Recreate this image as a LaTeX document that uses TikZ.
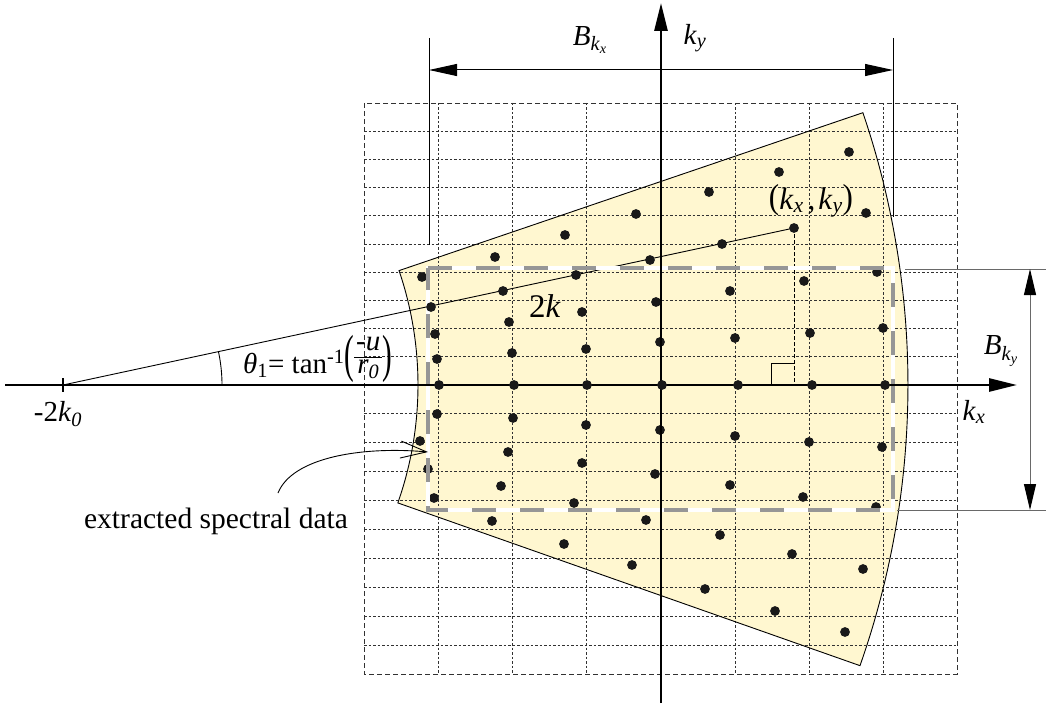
\documentclass[tikz,border=0pt]{standalone}
\usepackage{graphicx}
\usepackage{fontspec}
\setmainfont{Liberation Serif}
\usetikzlibrary{arrows.meta}
\definecolor{wedgefill}{RGB}{255,247,208}
\definecolor{gridcol}{RGB}{50,50,50}
\definecolor{rectgray}{RGB}{150,150,150}
\definecolor{dimgray}{RGB}{105,105,105}
\newcommand{\ik}{\textit{k}}
\newcommand{\lblfont}{\fontsize{29}{30}\selectfont}
\newcommand{\bigparen}[1]{\raisebox{0.05em}{\scalebox{1}[1.8]{#1}}}
\newcommand{\midparen}[1]{\raisebox{0.02em}{\scalebox{1}[1.12]{#1}}}
\begin{document}
\begin{tikzpicture}[x=1pt,y=-1pt,
  gridline/.style={draw=gridcol,line width=0.9pt,dash pattern=on 2.5pt off 2pt},
  gridborder/.style={draw=gridcol,line width=0.9pt,dash pattern=on 5pt off 3pt},
  wedge/.style={draw=black,line width=0.9pt},
  dotstyle/.style={fill=black!90},
  axisline/.style={line width=2.8pt,-{Triangle[length=28pt,width=13pt]}},
  dimline/.style={line width=1pt},
  dimarrow/.style={line width=1pt,{Triangle[length=28pt,width=12pt]}-{Triangle[length=28pt,width=12pt]}},
  dimgrayline/.style={draw=dimgray,line width=1pt},
  dimgrayarrow/.style={draw=dimgray,line width=1pt,{Triangle[length=26pt,width=12pt,color=black]}-{Triangle[length=26pt,width=12pt,color=black]}},
  lbl/.style={inner sep=0pt,font=\lblfont},
  thinline/.style={line width=0.9pt}
]
\useasboundingbox (0,0) rectangle (1046,706);
% key coordinates
\coordinate (C) at (63,385);
\coordinate (P) at (794,228);
% wedge corners
\path (C) ++(-18.8:355) coordinate (w1)
  (C) ++(-18.8:845) coordinate (w2)
  (C) ++(19.4:845) coordinate (w3)
  (C) ++(19.4:355) coordinate (w4);
\fill[wedgefill] (w1) -- (w2) arc[start angle=-18.8,end angle=19.4,radius=845] -- (w4) arc[start angle=19.4,end angle=-18.8,radius=355] -- cycle;
% grid
\foreach \gx in {438.2,512.5,586.8,735.2,809.5,883.8}
  \draw[gridline] (\gx,103) -- (\gx,674);
\foreach \gy in {131.2,159.4,187.6,215.8,244,272.2,300.4,328.6,356.8,413.9,442.8,471.7,500.6,529.5,558.4,587.3,616.2,645.1}
  \draw[gridline] (364,\gy) -- (957,\gy);
\draw[gridborder] (364,103) rectangle (957,674);
% wedge outline
\draw[wedge] (w1) -- (w2) arc[start angle=-18.8,end angle=19.4,radius=845] -- (w4) arc[start angle=19.4,end angle=-18.8,radius=355] -- cycle;
% 2k line, angle, right-angle mark
\draw[thinline] (C) -- (P);
\draw[thinline] (C) ++(159,0) arc[start angle=0,end angle=-12.1,radius=159];
\draw[line width=0.9pt,dash pattern=on 4pt off 2pt] (P) -- (P |- C);
\draw[thinline] (771,385) -- (771,363) -- (794,363);
% dots
\foreach \px/\py in {636/214,565/235,495/257,422/277,
  849/152,779/172,709/192,
  866/213,794/228,722/244,650/260,576/275,503/291,
  877/272,804/281,730/291,656/302,582/312,509/322,435/334,
  883/328,810/333,735/338,660/342,586/349,512/353,437/359,
  437/414,513/418,586/425,660/430,735/436,809/442,882/447,
  420/441,508/452,582/463,655/474,730/485,803/497,876/507,
  428/469,501/486,574/503,646/520,720/535,792/554,863/569,
  434/498,492/521,564/544,632/565,705/589,775/611,845/632}
  \fill[dotstyle] (\px,\py) circle[radius=4.9pt];
% extracted rectangle
\draw[white,line width=4pt] (428,268) rectangle (893,510);
\draw[rectgray,line width=4pt,dash pattern=on 24pt off 24pt] (428,268) -- (893,268) -- (893,510) -- (428,510) -- cycle;
\fill[dotstyle] (431,307) circle[radius=4.9pt];
% axes
\coordinate (xa0) at (5,385);
\coordinate (xa1) at (1017,385);
\coordinate (ya0) at (661,703);
\coordinate (ya1) at (661,3);
\draw[axisline] (xa0) -- (xa1);
\draw[axisline] (ya0) -- (ya1);
\foreach \px in {439,514,587,662,738,812,885}
  \fill[dotstyle] (\px,385) circle[radius=4.9pt];
\draw[line width=1.2pt] (63,378) -- (63,392);
% B_kx dimension
\coordinate (bx1) at (429,38);
\coordinate (bx1b) at (429,245);
\coordinate (bx2) at (893,38);
\coordinate (bx2b) at (893,217);
\draw[dimline] (bx1) -- (bx1b);
\draw[dimline] (bx2) -- (bx2b);
\draw[dimarrow] (429,70) -- (893,70);
% B_ky dimension
\coordinate (by1) at (905,269);
\coordinate (by1b) at (1046,269);
\coordinate (by2) at (897,510);
\coordinate (by2b) at (1046,510);
\draw[dimgrayline] (by1) -- (by1b);
\draw[dimgrayline] (by2) -- (by2b);
\draw[dimgrayarrow] (1030,269) -- (1030,510);
% labels
\node[lbl] (Bkx) at (590,40) {\textit{B}\textsubscript{\ik\textsubscript{\textit{x}}}};
\node[lbl] (ky) at (695,38) {\ik\textsubscript{\textit{y}}};
\node[lbl,font=\fontsize{31}{32}\selectfont] (kxky) at (811,201) {\midparen{(}\ik\textsubscript{\textit{x}}\hspace{4pt},\hspace{3pt}\ik\textsubscript{\textit{y}}\midparen{)}};
\node[lbl,font=\fontsize{33}{34}\selectfont] (twok) at (545,306) {2\ik};
\node[lbl,anchor=base west] (theta) at (243,373) {\setlength{\arrayrulewidth}{0.9pt}\renewcommand{\arraystretch}{0.75}\textit{θ}\textsubscript{1}= tan\textsuperscript{-1}\bigparen{(}\raisebox{9pt}{\begin{tabular}{@{\hspace{2pt}}c@{\hspace{2pt}}}-\textit{u}\\\hline\textit{r}\textsubscript{\textit{0}}\end{tabular}}\bigparen{)}};
\node[lbl] (k0) at (58,414) {-2\ik\textsubscript{\textit{0}}};
\node[lbl] (kx) at (974,412) {\ik\textsubscript{\textit{x}}};
\node[lbl] (Bky) at (1001,351) {\textit{B}\textsubscript{\ik\textsubscript{\textit{y}}}};
\node[inner sep=0pt,font=\fontsize{29.5}{30}\selectfont,anchor=base] (ext) at (216,528) {extracted spectral data};
\coordinate (e1) at (278,493);
\coordinate (e2) at (428,452);
\draw[thinline,-{Straight Barb[length=26pt,width=17pt]}] (e1) .. controls (292,458) and (360,446) .. (e2);
\end{tikzpicture}
\end{document}
